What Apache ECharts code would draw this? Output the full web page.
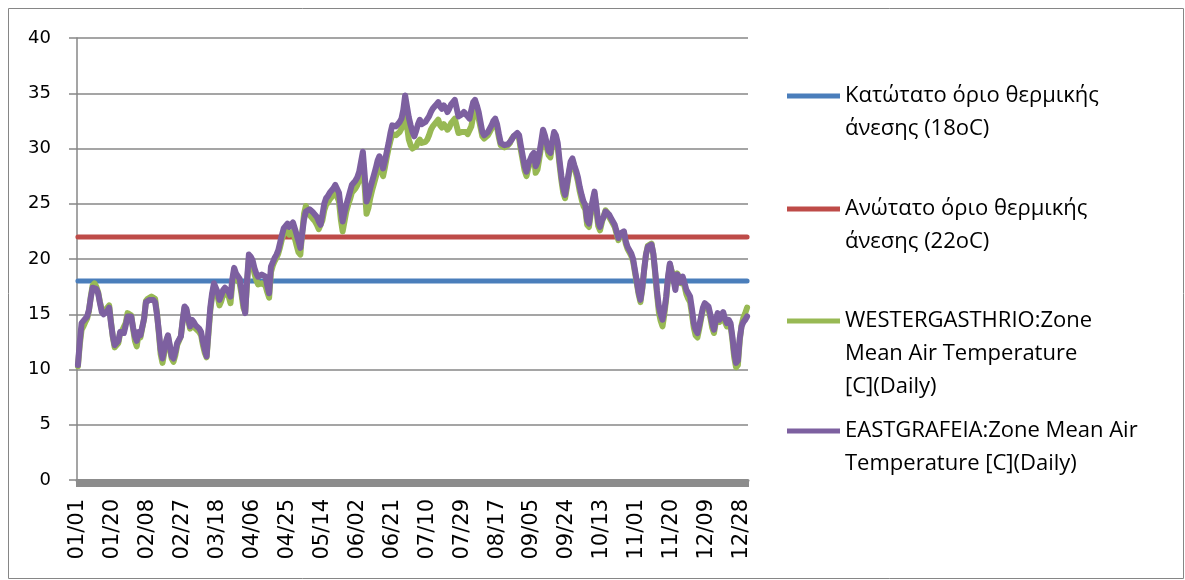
<!DOCTYPE html>
<html>
<head>
<meta charset="utf-8">
<script src="https://cdn.jsdelivr.net/npm/echarts@6/dist/echarts.min.js"></script>
<style>
html,body{margin:0;padding:0;background:#fff;}
#chart{width:1185px;height:580px;}
</style>
</head>
<body>
<div id="chart"></div>
<script>
// Tick labels shown every 19 days (MM/DD), categories = 365 days of a non-leap year
const monthDays = [31,28,31,30,31,30,31,31,30,31,30,31];
const categories = [];
monthDays.forEach((n, m) => { for (let d = 1; d <= n; d++) categories.push(String(m+1).padStart(2,'0') + '/' + String(d).padStart(2,'0')); });

const lowerLimit = 18;
const upperLimit = 22;

const westValues = [
10.3,12.2,13.6,13.9,14.3,14.6,15.3,16.6,17.6,17.8,17.5,
17.0,16.1,15.4,15.3,15.4,15.6,15.8,14.3,12.9,12.0,
11.9,12.4,13.3,13.5,13.4,14.2,15.1,15.2,14.9,13.7,
12.6,12.1,13.2,12.9,12.8,14.6,16.2,16.4,16.5,16.6,
16.7,16.4,15.1,13.3,11.4,10.6,11.5,12.4,13.0,12.0,
11.0,10.7,11.3,12.2,12.6,13.0,14.4,15.6,15.4,14.5,
13.7,14.3,14.0,13.7,13.6,13.4,13.1,12.2,11.5,11.1,
13.2,15.3,16.6,17.5,17.6,16.6,15.8,16.2,16.8,17.0,
17.1,16.6,16.0,17.8,18.9,18.3,18.4,17.8,16.8,15.6,
15.2,17.8,20.0,19.9,19.5,18.7,18.1,17.7,17.6,17.8,
17.7,17.6,17.0,16.5,18.8,19.4,19.8,20.1,20.5,21.1,
21.8,22.3,22.4,22.5,22.2,22.3,22.5,22.6,21.2,20.6,
20.4,22.4,24.1,24.8,24.3,24.0,23.9,23.6,23.4,23.1,
22.7,22.6,23.5,24.4,24.9,25.1,25.4,25.5,25.8,26.1,
26.0,25.2,23.6,22.5,23.4,24.3,24.9,25.4,26.0,26.2,
26.4,26.7,27.1,28.0,29.0,26.5,24.1,24.6,25.5,26.2,
26.8,27.4,28.1,28.6,28.0,27.5,28.3,29.2,30.0,30.7,
31.3,31.4,31.2,31.3,31.5,31.8,32.5,33.4,32.0,30.8,
30.3,30.0,30.0,30.2,30.6,30.8,30.5,30.4,30.6,30.8,
31.2,31.7,32.0,32.2,32.4,32.6,32.1,31.9,32.2,32.0,
31.7,31.9,32.3,32.5,32.7,32.6,31.4,31.3,31.5,31.6,
31.5,31.3,31.2,32.0,32.9,33.3,33.1,32.7,31.9,31.1,
30.9,30.9,31.2,31.5,31.8,32.2,32.4,31.9,31.0,30.3,
30.2,30.1,30.1,30.3,30.5,30.9,31.1,31.1,31.2,30.9,
29.8,28.9,28.0,27.5,28.2,28.7,29.1,29.3,27.8,28.1,
29.1,30.2,31.3,30.8,30.1,29.4,29.2,30.3,31.2,30.9,
30.1,28.5,27.1,26.0,25.5,26.5,27.6,28.6,28.9,28.3,
27.7,27.0,26.1,25.4,24.8,24.5,23.1,22.9,24.1,25.1,
25.9,24.5,23.0,22.6,23.3,23.9,24.4,24.2,23.8,23.5,
23.2,22.9,22.3,21.7,22.1,22.2,22.4,21.4,20.9,20.6,
20.3,19.8,18.8,17.8,16.8,16.1,17.3,19.0,20.4,21.2,
21.3,21.4,20.4,18.7,16.8,15.2,14.4,13.9,15.0,16.4,
18.2,19.5,18.9,18.3,17.5,18.7,18.4,17.8,18.2,17.5,
16.8,16.4,16.1,15.0,13.8,13.1,12.9,13.7,14.6,15.4,
15.9,15.8,15.5,14.7,13.8,13.3,14.3,14.9,14.3,14.7,
15.0,14.3,13.9,14.3,14.0,12.7,11.1,10.2,10.4,12.6,
14.0,14.7,15.1,15.6
];

const eastValues = [
10.4,12.5,14.2,14.4,14.6,14.8,15.4,16.5,17.4,17.5,17.3,
16.9,16.0,15.2,15.0,15.0,15.3,15.6,14.2,13.0,12.2,
12.1,12.6,13.4,13.5,13.3,14.0,14.8,14.9,14.8,13.8,
13.0,12.6,13.4,13.1,13.0,14.6,16.1,16.2,16.3,16.2,
16.3,16.1,15.0,13.5,11.8,11.0,11.8,12.6,13.1,12.2,
11.2,11.0,11.6,12.4,12.7,13.0,14.5,15.7,15.5,14.6,
13.9,14.5,14.3,14.0,13.9,13.7,13.4,12.5,11.8,11.2,
13.5,15.6,16.9,17.8,17.9,17.0,16.3,16.7,17.2,17.4,
17.5,17.0,16.6,18.2,19.2,18.7,18.8,18.2,17.2,16.0,
15.1,18.1,20.4,20.2,19.9,19.2,18.7,18.4,18.4,18.6,
18.5,18.4,17.6,16.9,19.3,19.7,20.1,20.4,20.8,21.5,
22.2,22.8,23.0,23.2,22.9,23.1,23.3,23.4,22.2,21.6,
21.0,22.3,23.6,24.3,24.4,24.5,24.4,24.2,24.1,23.8,
23.4,23.1,24.0,25.0,25.5,25.7,26.0,26.1,26.4,26.7,
26.6,26.0,24.6,23.4,24.2,24.9,25.5,26.1,26.7,26.9,
27.1,27.4,27.9,28.8,29.7,27.6,25.2,25.7,26.4,27.0,
27.6,28.2,28.9,29.3,28.8,28.2,28.9,29.7,30.5,31.4,
32.1,32.1,32.0,32.1,32.4,32.7,33.5,34.8,33.8,32.8,
32.1,31.5,31.1,31.6,32.2,32.6,32.2,32.1,32.4,32.5,
32.9,33.3,33.6,33.8,34.0,34.2,33.8,33.6,33.9,33.7,
33.3,33.6,34.0,34.2,34.4,34.5,32.9,32.8,33.1,33.3,
33.1,32.9,32.7,33.5,34.2,34.4,33.9,33.3,32.4,31.5,
31.2,31.2,31.5,31.8,32.1,32.5,32.7,32.2,31.3,30.5,
30.4,30.3,30.3,30.4,30.5,30.8,31.1,31.2,31.4,31.2,
30.2,29.3,28.4,27.9,28.6,29.0,29.4,29.6,28.4,28.8,
29.6,30.6,31.7,31.2,30.5,29.8,29.6,30.6,31.5,31.2,
30.5,28.9,27.5,26.4,25.8,26.8,27.8,28.8,29.1,28.5,
28.0,27.4,26.5,25.8,25.2,24.9,23.5,23.2,24.4,25.3,
26.1,24.8,23.4,22.9,23.5,23.8,24.3,24.4,24.0,23.7,
23.4,23.1,22.5,21.9,22.3,22.3,22.5,21.6,21.1,20.8,
20.5,20.0,19.0,18.0,17.0,16.3,17.4,19.0,20.4,21.1,
21.2,21.3,20.5,18.9,17.1,15.7,15.0,14.5,15.4,16.6,
18.4,19.6,18.8,18.1,17.2,18.6,18.3,17.9,18.4,17.8,
17.2,16.9,16.6,15.5,14.2,13.6,13.3,14.0,14.8,15.6,
16.0,15.9,15.7,15.0,14.2,13.6,14.5,15.1,14.5,14.9,
15.2,14.6,14.2,14.5,14.2,13.0,11.5,10.6,10.8,12.8,
13.9,14.3,14.5,14.8
];

const seriesNames = [
  'Κατώτατο όριο θερμικής άνεσης (18oC)',
  'Ανώτατο όριο θερμικής άνεσης (22oC)',
  'WESTERGASTHRIO:Zone Mean Air Temperature [C](Daily)',
  'EASTGRAFEIA:Zone Mean Air Temperature [C](Daily)'
];
const legendLines = [
  ['Κατώτατο όριο θερμικής', 'άνεσης (18oC)'],
  ['Ανώτατο όριο θερμικής', 'άνεσης (22oC)'],
  ['WESTERGASTHRIO:Zone', 'Mean Air Temperature', '[C](Daily)'],
  ['EASTGRAFEIA:Zone Mean Air', 'Temperature [C](Daily)']
];
const seriesColors = ['#4A7EBB', '#BE4B48', '#98B954', '#7D60A0'];

const yTicks = [0,5,10,15,20,25,30,35,40];

const chart = echarts.init(document.getElementById('chart'), null, {renderer: 'canvas'});
const LEGEND_FONT = 'Open Sans';
const AXIS_FONT = 'DejaVu Sans';
const LH = 33;
const legendIconY = [95, 208, 320, 430];

const legends = seriesNames.map((name, i) => {
  const n = legendLines[i].length;
  // blank lines above so the first text line sits level with the legend line
  const lines = new Array(n - 1).fill('').concat(legendLines[i]);
  const totalH = lines.length * LH;
  return {
    orient: 'vertical',
    left: 787,
    top: legendIconY[i] - totalH / 2 + 1,
    itemWidth: 53,
    itemHeight: 5,
    itemGap: 0,
    padding: 0,
    icon: 'rect',
    selectedMode: false,
    data: [{name: name, icon: 'rect', itemStyle: {color: seriesColors[i]}}],
    formatter: () => lines.join('\n'),
    textStyle: {fontFamily: LEGEND_FONT, fontSize: 22, color: '#000', lineHeight: LH}
  };
});

const lineSeries = (name, data, color, z, width) => ({
  name, type: 'line', data, symbol: 'none', smooth: false, z,
  lineStyle: {color, width, cap: 'round', join: 'round'},
  itemStyle: {color},
  emphasis: {disabled: true}
});

chart.setOption({
  animation: false,
  backgroundColor: '#fff',
  grid: {left: 77, right: 437, top: 38, bottom: 100, containLabel: false},
  legend: legends,
  xAxis: {
    type: 'category',
    data: categories,
    boundaryGap: true,
    axisLine: {lineStyle: {color: '#8c8c8c', width: 3}},
    axisTick: {show: true, interval: 0, length: 7, lineStyle: {color: '#8c8c8c', width: 2}},
    axisLabel: {interval: 18, rotate: 90, fontFamily: AXIS_FONT, fontSize: 21, color: '#000', margin: 19}
  },
  yAxis: {
    type: 'value', min: yTicks[0], max: yTicks[yTicks.length - 1], interval: 5,
    axisLine: {show: true, lineStyle: {color: '#878787', width: 1.5}},
    axisTick: {show: true, length: 8, lineStyle: {color: '#878787', width: 1.5}},
    axisLabel: {fontFamily: AXIS_FONT, fontSize: 18, color: '#000', margin: 26},
    splitLine: {lineStyle: {color: '#878787', width: 1.5}}
  },
  series: [
    lineSeries(seriesNames[0], categories.map(() => lowerLimit), seriesColors[0], 2, 5),
    lineSeries(seriesNames[1], categories.map(() => upperLimit), seriesColors[1], 2, 5),
    lineSeries(seriesNames[2], westValues, seriesColors[2], 3, 6),
    lineSeries(seriesNames[3], eastValues, seriesColors[3], 4, 6)
  ],
  graphic: [{
    type: 'rect', silent: true, z: -1,
    shape: {x: 8.5, y: 8.5, width: 1175, height: 570},
    style: {fill: 'none', stroke: '#868686', lineWidth: 1}
  }]
});
</script>
</body>
</html>
